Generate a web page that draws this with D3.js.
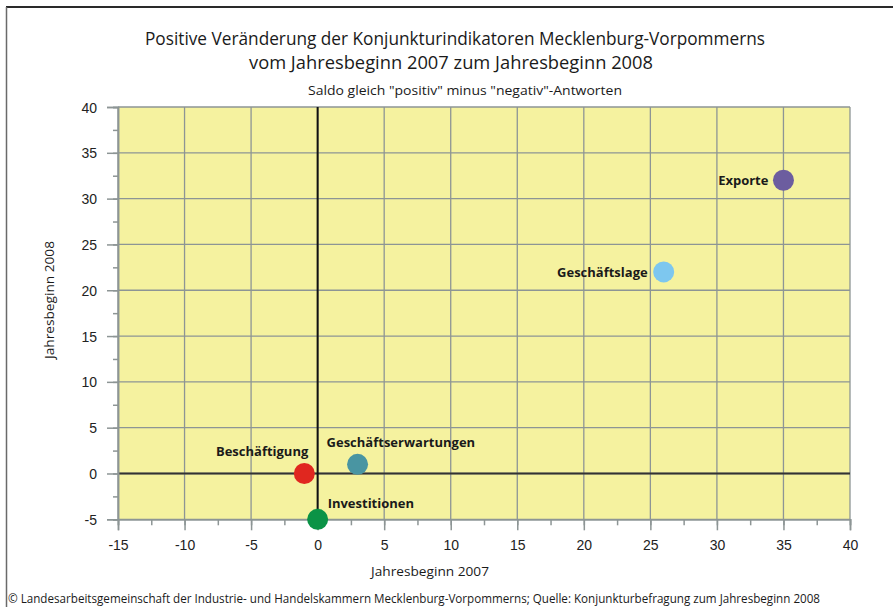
<!DOCTYPE html>
<html>
<head>
<meta charset="utf-8">
<script src="https://cdn.jsdelivr.net/npm/d3@7/dist/d3.min.js"></script>
<style>
  html, body { margin: 0; padding: 0; background: #fff; }
  svg { display: block; }
</style>
</head>
<body>
<svg id="chart" width="893" height="607"></svg>
<script>
// ---- data ----
const indicators = ["Exporte", "Geschäftslage", "Geschäftserwartungen", "Beschäftigung", "Investitionen"];
const change2007 = [35, 26, 3, -1, 0];
const change2008 = [32, 22, 1, 0, -5];
const pointColors = ["#6c5d9f", "#7dc7ef", "#4995a2", "#e0271f", "#0b9346"];
const xTicks = [-15, -10, -5, 0, 5, 10, 15, 20, 25, 30, 35, 40];
const yTicks = [-5, 0, 5, 10, 15, 20, 25, 30, 35, 40];
const titleLines = ["Positive Veränderung der Konjunkturindikatoren Mecklenburg-Vorpommerns",
                    "vom Jahresbeginn 2007 zum Jahresbeginn 2008"];
const subtitle = "Saldo gleich \"positiv\" minus \"negativ\"-Antworten";
const xTitle = "Jahresbeginn 2007";
const yTitle = "Jahresbeginn 2008";
const footer = "© Landesarbeitsgemeinschaft der Industrie- und Handelskammern Mecklenburg-Vorpommerns; Quelle: Konjunkturbefragung zum Jahresbeginn 2008";

// label placement (style, not data): anchor + offset from point
const labelPlace = {
  "Exporte": {anchor: "end", dx: -15, dy: 5},
  "Geschäftslage": {anchor: "end", dx: -16, dy: 5},
  "Geschäftserwartungen": {anchor: "start", dx: -31, dy: -17},
  "Beschäftigung": {anchor: "end", dx: 4, dy: -17},
  "Investitionen": {anchor: "start", dx: 10, dy: -11}
};

const svg = d3.select("#chart");
const pLeft = 118, pRight = 850, pTop = 107, pBottom = 519.3;
const x = d3.scaleLinear().domain([-15, 40]).range([pLeft, pRight]);
const y = d3.scaleLinear().domain([-5, 40]).range([pBottom, pTop]);

// frame
svg.append("line").attr("x1", 6).attr("x2", 893).attr("y1", 7).attr("y2", 7)
  .attr("stroke", "#2a2a2a").attr("stroke-width", 2);
svg.append("line").attr("x1", 6.5).attr("x2", 6.5).attr("y1", 7).attr("y2", 607)
  .attr("stroke", "#6a6a6a").attr("stroke-width", 1.5);

// titles
const titleFont = "'Open Sans', 'Noto Sans', sans-serif";
svg.append("text").attr("x", 455).attr("y", 45).attr("text-anchor", "middle")
  .attr("font-family", titleFont).attr("font-size", 17.5).attr("fill", "#1a1a1a")
  .attr("textLength", 620).attr("lengthAdjust", "spacingAndGlyphs").text(titleLines[0]);
svg.append("text").attr("x", 451).attr("y", 69).attr("text-anchor", "middle")
  .attr("font-family", titleFont).attr("font-size", 17.5).attr("fill", "#1a1a1a")
  .attr("textLength", 404).attr("lengthAdjust", "spacingAndGlyphs").text(titleLines[1]);
svg.append("text").attr("x", 465).attr("y", 95).attr("text-anchor", "middle")
  .attr("font-family", titleFont).attr("font-size", 13).attr("fill", "#1a1a1a")
  .attr("textLength", 314).attr("lengthAdjust", "spacingAndGlyphs").text(subtitle);

// plot background
svg.append("rect").attr("x", pLeft).attr("y", pTop).attr("width", pRight - pLeft).attr("height", pBottom - pTop)
  .attr("fill", "#f5f29f");

// grid
const gridColor = "#8d9595";
svg.append("g").selectAll("line").data(xTicks).join("line")
  .attr("x1", d => x(d)).attr("x2", d => x(d)).attr("y1", pTop).attr("y2", pBottom)
  .attr("stroke", gridColor).attr("stroke-width", 1.3);
svg.append("g").selectAll("line").data(yTicks).join("line")
  .attr("x1", pLeft).attr("x2", pRight).attr("y1", d => y(d)).attr("y2", d => y(d))
  .attr("stroke", gridColor).attr("stroke-width", 1.3);

// zero lines
svg.append("line").attr("x1", pLeft).attr("x2", pRight).attr("y1", y(0)).attr("y2", y(0))
  .attr("stroke", "#333").attr("stroke-width", 2.2);
svg.append("line").attr("x1", x(0)).attr("x2", x(0)).attr("y1", pTop).attr("y2", pBottom)
  .attr("stroke", "#111").attr("stroke-width", 2);

// axes
const tickFont = "'Liberation Sans', Arial, sans-serif";
const yMinor = d3.range(-5, 40.01, 2.5);
const xMinor = d3.range(-15, 40.01, 2.5);
const fmt = d => String(d);
const yAxis = svg.append("g").attr("transform", `translate(${pLeft},0)`)
  .call(d3.axisLeft(y).tickValues(yMinor).tickSize(5).tickFormat(""));
const yAxisMajor = svg.append("g").attr("transform", `translate(${pLeft},0)`)
  .call(d3.axisLeft(y).tickValues(yTicks).tickSize(11).tickPadding(10).tickFormat(fmt));
const xAxis = svg.append("g").attr("transform", `translate(0,${pBottom})`)
  .call(d3.axisBottom(x).tickValues(xMinor).tickSize(6).tickFormat(""));
const xAxisMajor = svg.append("g").attr("transform", `translate(0,${pBottom})`)
  .call(d3.axisBottom(x).tickValues(xTicks).tickSize(11).tickPadding(10).tickFormat(fmt));
[yAxis, yAxisMajor, xAxis, xAxisMajor].forEach(g => {
  g.selectAll("path.domain").attr("stroke", gridColor).attr("stroke-width", 1.5);
  g.selectAll(".tick line").attr("stroke", gridColor).attr("stroke-width", 1.5);
  g.selectAll(".tick text").attr("font-family", tickFont).attr("font-size", 14).attr("fill", "#222");
});
yAxisMajor.selectAll(".tick text").attr("dy", "0.36em");
xAxisMajor.selectAll(".tick text").attr("dy", "0.71em");

// axis titles
svg.append("text").attr("x", 430).attr("y", 576).attr("text-anchor", "middle")
  .attr("font-family", titleFont).attr("font-size", 13.5).attr("fill", "#1a1a1a")
  .attr("textLength", 118).attr("lengthAdjust", "spacingAndGlyphs").text(xTitle);
svg.append("text").attr("transform", "translate(54,300) rotate(-90)").attr("text-anchor", "middle")
  .attr("font-family", titleFont).attr("font-size", 13.5).attr("fill", "#1a1a1a")
  .attr("textLength", 118).attr("lengthAdjust", "spacingAndGlyphs").text(yTitle);

// points
const pts = indicators.map((name, i) => ({name, vx: change2007[i], vy: change2008[i], color: pointColors[i]}));
svg.append("g").selectAll("circle").data(pts).join("circle")
  .attr("cx", d => x(d.vx)).attr("cy", d => y(d.vy)).attr("r", 10.5)
  .attr("fill", d => d.color);

// labels
svg.append("g").selectAll("text").data(pts).join("text")
  .attr("x", d => x(d.vx) + labelPlace[d.name].dx)
  .attr("y", d => y(d.vy) + labelPlace[d.name].dy)
  .attr("text-anchor", d => labelPlace[d.name].anchor)
  .attr("font-family", titleFont).attr("font-weight", "bold").attr("font-size", 13)
  .attr("fill", "#1a1a1a")
  .text(d => d.name);

// footer
svg.append("text").attr("x", 8).attr("y", 603)
  .attr("font-family", titleFont).attr("font-size", 12).attr("fill", "#1a1a1a")
  .attr("textLength", 812).attr("lengthAdjust", "spacingAndGlyphs").text(footer);
</script>
</body>
</html>
